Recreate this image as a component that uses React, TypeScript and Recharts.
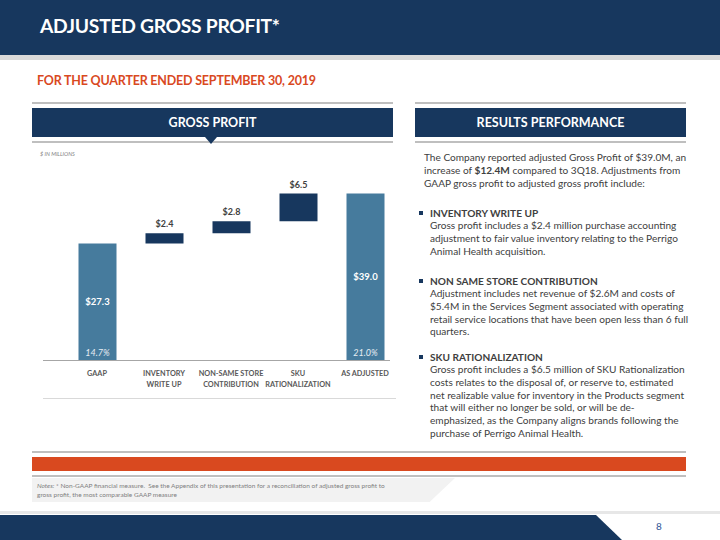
import React from "react";
import { BarChart, Bar, XAxis, YAxis, Cell, LabelList } from "recharts";

const NAVY = "#17375E";
const STEEL = "#467B9D";
const ORANGE = "#D9491F";
const GRAY_TEXT = "#404040";
const FONT = "Lato, 'Open Sans', sans-serif";

// chart data
const categories = ["GAAP", "INVENTORY WRITE UP", "NON-SAME STORE CONTRIBUTION", "SKU RATIONALIZATION", "AS ADJUSTED"];
const tickLines = [["GAAP"], ["INVENTORY", "WRITE UP"], ["NON-SAME STORE", "CONTRIBUTION"], ["SKU", "RATIONALIZATION"], ["AS ADJUSTED"]];
const amounts = [27.3, 2.4, 2.8, 6.5, 39.0];
const isTotal = [true, false, false, false, true];
const marginPct = ["14.7%", "", "", "", "21.0%"];

// waterfall: deltas float on top of the running total
let running = 0;
const data = categories.map((name, i) => {
  const base = isTotal[i] ? 0 : running;
  running = isTotal[i] ? amounts[i] : running + amounts[i];
  return { name, base, amount: amounts[i] };
});

const intro = [
  "The Company reported adjusted Gross Profit of $39.0M, an",
  "increase of |$12.4M| compared to 3Q18.  Adjustments from",
  "GAAP gross profit to adjusted gross profit include:",
];

const bullets = [
  {
    title: "INVENTORY WRITE UP",
    top: 206.6,
    lines: [
      "Gross profit includes a $2.4 million purchase accounting",
      "adjustment to fair value inventory relating to the Perrigo",
      "Animal Health acquisition.",
    ],
  },
  {
    title: "NON SAME STORE CONTRIBUTION",
    top: 274.6,
    lines: [
      "Adjustment includes net revenue of $2.6M and costs of",
      "$5.4M in the Services Segment associated with operating",
      "retail service locations that have been open less than 6 full",
      "quarters.",
    ],
  },
  {
    title: "SKU RATIONALIZATION",
    top: 350.6,
    lines: [
      "Gross profit includes a $6.5 million of SKU Rationalization",
      "costs relates to the disposal of, or reserve to, estimated",
      "net realizable value for inventory in the Products segment",
      "that will either no longer be sold, or will be de-",
      "emphasized, as the Company aligns brands following the",
      "purchase of Perrigo Animal Health.",
    ],
  },
];

const abs = (left: number, top: number, w: number, h: number, bg: string): React.CSSProperties => ({
  position: "absolute",
  left,
  top,
  width: w,
  height: h,
  background: bg,
});

function CategoryTick(props: any) {
  const { x, y, payload } = props;
  const lines = tickLines[payload.index] || [payload.value];
  return (
    <g>
      {lines.map((l, k) => (
        <text
          key={k}
          x={x}
          y={y + 8 + k * 10.5}
          textAnchor="middle"
          fontSize={7.3}
          fontWeight={700}
          fill="#595959"
          fontFamily={FONT}
        >
          {l}
        </text>
      ))}
    </g>
  );
}

function AmountLabel(props: any) {
  const { x, y, width, height, index } = props;
  const cx = x + width / 2;
  const txt = `$${amounts[index].toFixed(1)}`;
  if (!isTotal[index]) {
    return (
      <text x={cx} y={y - 6} textAnchor="middle" fontSize={9} fontWeight={700} fill={GRAY_TEXT} fontFamily={FONT}>
        {txt}
      </text>
    );
  }
  return (
    <g>
      <text x={cx} y={y + height / 2 + 3} textAnchor="middle" fontSize={9.5} fontWeight={700} fill="#fff" fontFamily={FONT}>
        {txt}
      </text>
      <text x={cx} y={y + height - 4} textAnchor="middle" fontSize={9} fontStyle="italic" fill="#E8EEF3" fontFamily={FONT}>
        {marginPct[index]}
      </text>
    </g>
  );
}

function renderIntro(line: string) {
  const parts = line.split("|");
  return parts.map((p, i) => (i % 2 === 1 ? <b key={i}>{p}</b> : <span key={i}>{p}</span>));
}

export default function App() {
  return (
    <div style={{ position: "relative", width: 720, height: 540, background: "#fff", overflow: "hidden", fontFamily: FONT }}>
      <style>{`body{margin:0}`}</style>

      {/* title bar */}
      <div style={abs(0, 0, 720, 55, NAVY)} />
      <div style={abs(0, 55, 720, 5, "#D9D9D9")} />
      <div style={{ position: "absolute", left: 40, top: 14, color: "#fff", fontSize: 19.3, fontWeight: 700, letterSpacing: -0.3 }}>
        ADJUSTED GROSS PROFIT*
      </div>
      <div style={{ position: "absolute", left: 37, top: 73, color: ORANGE, fontSize: 12.5, fontWeight: 700, letterSpacing: -0.2 }}>
        FOR THE QUARTER ENDED SEPTEMBER 30, 2019
      </div>

      {/* panel headers */}
      <div style={abs(32, 102, 361, 2, "#BFBFBF")} />
      <div style={abs(415, 102, 271, 2, "#BFBFBF")} />
      <div style={{ ...abs(32, 108, 361, 29, NAVY), color: "#fff", fontSize: 12.5, fontWeight: 700, textAlign: "center", lineHeight: "29px" }}>
        GROSS PROFIT
      </div>
      <div style={{ ...abs(415, 108, 271, 29, NAVY), color: "#fff", fontSize: 12.5, fontWeight: 700, textAlign: "center", lineHeight: "29px" }}>
        RESULTS PERFORMANCE
      </div>
      <div style={abs(32, 141, 361, 1.5, "#BFBFBF")} />
      <div style={abs(415, 141, 271, 1.5, "#BFBFBF")} />
      <div style={{ ...abs(205, 137, 12, 7, NAVY), clipPath: "polygon(0 0, 100% 0, 50% 100%)" }} />

      <div style={{ position: "absolute", left: 40, top: 151, fontSize: 5.5, fontStyle: "italic", color: "#7F7F7F" }}>
        $ IN MILLIONS
      </div>

      {/* waterfall chart */}
      <div style={{ position: "absolute", left: 30, top: 150 }}>
        <BarChart
          width={380}
          height={260}
          data={data}
          margin={{ top: 18, right: 11.5, bottom: 10, left: 33.5 }}
          barSize={38}
        >
          <XAxis dataKey="name" axisLine={false} tickLine={false} interval={0} tick={<CategoryTick />} height={40} />
          <YAxis hide domain={[0, 45]} />
          <Bar dataKey="base" stackId="a" fill="transparent" isAnimationActive={false} />
          <Bar dataKey="amount" stackId="a" isAnimationActive={false}>
            {data.map((d, i) => (
              <Cell key={d.name} fill={isTotal[i] ? STEEL : NAVY} />
            ))}
            <LabelList dataKey="amount" content={<AmountLabel />} />
          </Bar>
        </BarChart>
      </div>
      <div style={abs(43, 359.5, 347, 1.5, "#A6A6A6")} />
      <div style={abs(43, 397.5, 353, 1.5, "#D9D9D9")} />

      {/* right-hand text */}
      <div style={{ position: "absolute", left: 424, top: 150.5, fontSize: 10.1, lineHeight: "13px", color: GRAY_TEXT, whiteSpace: "nowrap" }}>
        {intro.map((l, i) => (
          <div key={i}>{renderIntro(l)}</div>
        ))}
      </div>
      {bullets.map((b) => (
        <div key={b.title}>
          <div style={abs(419, b.top + 4.5, 4, 4, NAVY)} />
          <div style={{ position: "absolute", left: 430, top: b.top, fontSize: 10.1, lineHeight: "12.7px", color: GRAY_TEXT, whiteSpace: "nowrap" }}>
            <div style={{ fontWeight: 700 }}>{b.title}</div>
            {b.lines.map((l, i) => (
              <div key={i}>{l}</div>
            ))}
          </div>
        </div>
      ))}

      {/* footer */}
      <div style={abs(32, 451, 654, 2, "#BFBFBF")} />
      <div style={abs(32, 457, 654, 14, ORANGE)} />
      <div style={abs(32, 475, 654, 2, "#BFBFBF")} />
      <div style={{ ...abs(32, 478, 423, 24, "#F2F2F2"), clipPath: "polygon(0 0, 100% 0, 94% 100%, 0 100%)" }} />
      <div style={{ position: "absolute", left: 37, top: 481, fontSize: 6.5, lineHeight: "9px", color: "#7F7F7F", whiteSpace: "nowrap" }}>
        <div>
          <i>Notes:</i> * Non-GAAP financial measure.&nbsp; See the Appendix of this presentation for a reconciliation of adjusted gross profit to
        </div>
        <div>gross profit, the most comparable GAAP measure</div>
      </div>
      <div style={abs(0, 511, 720, 3, "#E7E7E7")} />
      <div style={{ ...abs(0, 515, 622, 25, NAVY), clipPath: "polygon(0 0, 596px 0, 100% 100%, 0 100%)" }} />
      <div style={{ position: "absolute", left: 656, top: 520, fontSize: 10, color: "#2F5597" }}>8</div>
    </div>
  );
}
